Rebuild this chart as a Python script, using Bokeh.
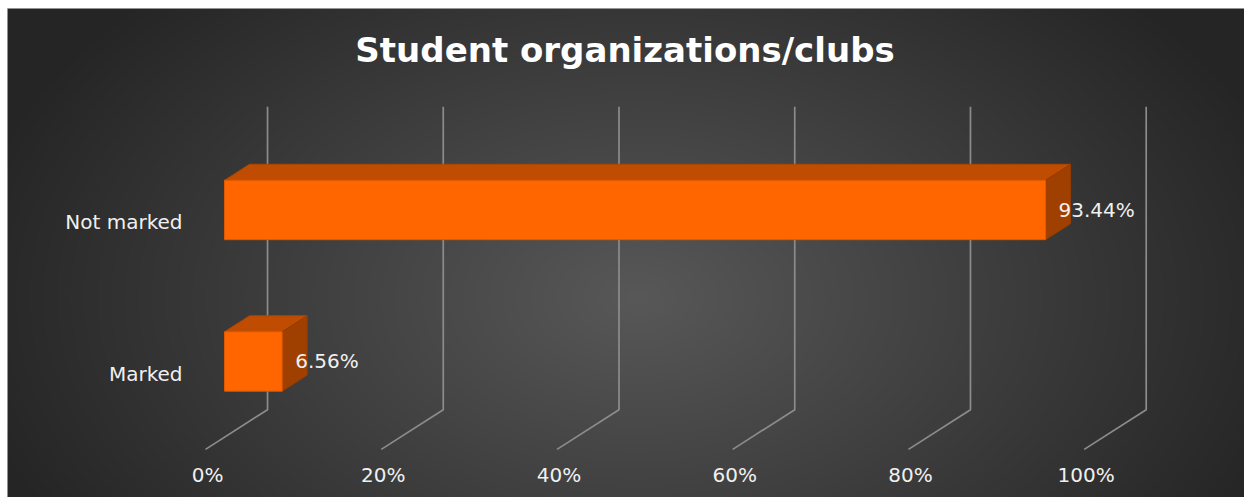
import numpy as np
from bokeh.plotting import figure
from bokeh.models import Range1d
from bokeh.core.properties import value
from bokeh.embed import file_html
from bokeh.resources import INLINE

# ---- data ----
categories = ["Marked", "Not marked"]
percentages = [6.56, 93.44]
value_labels = ["6.56%", "93.44%"]
tick_values = [0, 20, 40, 60, 80, 100]
tick_labels = ["0%", "20%", "40%", "60%", "80%", "100%"]
title_text = "Student organizations/clubs"

# ---- pseudo-3D projection (style constants) ----
DX = 2.845      # x shift (percent units) per unit of depth
DY = 0.1056     # y shift (category units) per unit of depth
Z_WALL = 1.72   # depth of back wall
Z_FLOOR = -0.76 # depth of floor front edge
HALF = 0.196    # half bar thickness
Y_LO, Y_HI = -0.5, 1.5

def proj(x, y, z):
    return x + z * DX, y + z * DY

W, H = 1244, 497
LEFT, TOP = 7, 8
FW, FH = W - LEFT, H - TOP
XR = (-24.70, 116.08)
YR = (-0.898, 2.330)
PXX = FW / (XR[1] - XR[0])
PXY = FH / (YR[1] - YR[0])

p = figure(width=W, height=H, output_backend="svg", toolbar_location=None,
           x_range=Range1d(*XR), y_range=Range1d(*YR),
           min_border_left=LEFT, min_border_top=TOP,
           min_border_right=0, min_border_bottom=0,
           outline_line_color="#b8b8b8", outline_line_width=1)
p.axis.visible = False
p.xgrid.visible = False
p.ygrid.visible = False
p.background_fill_color = "#333333"
p.border_fill_color = "#ffffff"

# ---- radial gradient background ----
gw, gh = 620, 245
xs = np.linspace(0, FW, gw)
ys = np.linspace(FH, 0, gh)  # image row 0 is bottom
X, Y = np.meshgrid(xs, ys)
cx, cy = 630.0, 290.0
r = np.sqrt(((X - cx) / 690.0) ** 2 + ((Y - cy) / 440.0) ** 2)
t = np.clip(r, 0, 1)
c_in, c_out = 88.0, 37.0
c = (c_in + (c_out - c_in) * t).astype(np.uint32)
img = (255 << 24) | (c << 16) | (c << 8) | c
p.image_rgba(image=[img.astype(np.uint32)], x=XR[0], y=YR[0],
             dw=XR[1] - XR[0], dh=YR[1] - YR[0])

# ---- wall and floor grid lines ----
gx, gy = [], []
for tv in tick_values:
    x0, y0 = proj(tv, Y_LO, Z_WALL)
    x1, y1 = proj(tv, Y_HI, Z_WALL)
    x2, y2 = proj(tv, Y_LO, Z_FLOOR)
    gx.append([x2, x0, x1])
    gy.append([y2, y0, y1])
p.multi_line(xs=gx, ys=gy, line_color="#8c8c8c", line_width=1.7)

# ---- bars ----
front_x, front_y, top_x, top_y, side_x, side_y = [], [], [], [], [], []
for i, v in enumerate(percentages):
    lo, hi = i - HALF, i + HALF
    pts = [proj(0, lo, 0), proj(v, lo, 0), proj(v, hi, 0), proj(0, hi, 0)]
    front_x.append([q[0] for q in pts]); front_y.append([q[1] for q in pts])
    pts = [proj(0, hi, 0), proj(v, hi, 0), proj(v, hi, 1), proj(0, hi, 1)]
    top_x.append([q[0] for q in pts]); top_y.append([q[1] for q in pts])
    pts = [proj(v, lo, 0), proj(v, lo, 1), proj(v, hi, 1), proj(v, hi, 0)]
    side_x.append([q[0] for q in pts]); side_y.append([q[1] for q in pts])

p.patches(top_x, top_y, fill_color="#BF4C00", line_color="#B04600", line_width=1)
p.patches(side_x, side_y, fill_color="#A04000", line_color="#963C00", line_width=1)
p.patches(front_x, front_y, fill_color="#FF6600", line_color="#E05A00", line_width=1)

# ---- value labels ----
vl_x, vl_y = [], []
for i, v in enumerate(percentages):
    x, y = proj(v, i, 0)
    vl_x.append(x + 13 / PXX)
    vl_y.append(y)
p.text(x=vl_x, y=vl_y, text=value_labels, text_color="#F0F0F0",
       text_font=value("DejaVu Sans"), text_font_size="20px",
       text_align="left", text_baseline="middle")

# ---- category labels ----
cl_x, cl_y = [], []
for i, _ in enumerate(categories):
    x, y = proj(0, i, Z_FLOOR)
    cl_x.append(x - 23 / PXX)
    cl_y.append(y)
p.text(x=cl_x, y=cl_y, text=categories, text_color="#F0F0F0",
       text_font=value("DejaVu Sans"), text_font_size="20px",
       text_align="right", text_baseline="middle")

# ---- value-axis tick labels ----
tl_x, tl_y = [], []
for tv in tick_values:
    x, y = proj(tv, Y_LO, Z_FLOOR)
    tl_x.append(x + 2 / PXX)
    tl_y.append(y - 26 / PXY)
p.text(x=tl_x, y=tl_y, text=tick_labels, text_color="#F0F0F0",
       text_font=value("DejaVu Sans"), text_font_size="20px",
       text_align="center", text_baseline="middle")

# ---- title ----
p.text(x=[(624.5 - 224) / PXX], y=[(361 - 49.5) / PXY], text=[title_text],
       text_color="#FFFFFF", text_font=value("DejaVu Sans"),
       text_font_style="bold", text_font_size="34px",
       text_align="center", text_baseline="middle")

open("out.html", "w").write(file_html(p, INLINE))
